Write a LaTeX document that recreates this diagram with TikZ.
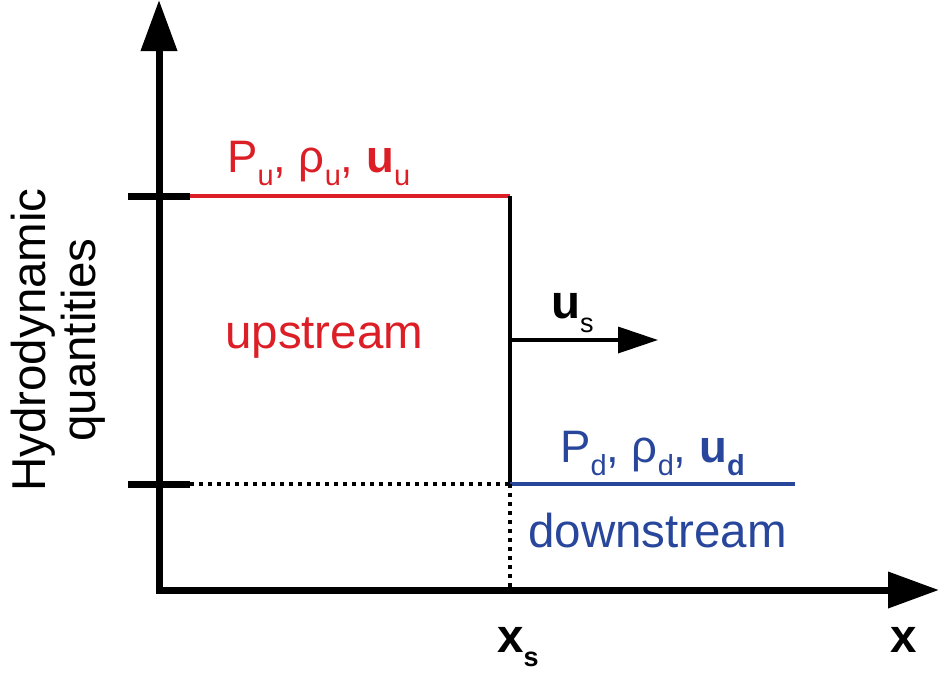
\documentclass[tikz,border=0pt]{standalone}
\usepackage{fontspec}
\setmainfont{Liberation Sans}
\usetikzlibrary{arrows.meta}
\definecolor{upred}{RGB}{220,30,38}
\definecolor{downblue}{RGB}{40,70,155}
\newcommand{\mysub}[1]{\raisebox{-0.3em}{\fontsize{29}{29}\selectfont #1}}
\newcommand{\mybsub}[1]{\raisebox{-0.3em}{\fontsize{29}{29}\selectfont\bfseries #1}}
\newcommand{\mysmallsub}[1]{\raisebox{-0.3em}{\fontsize{27}{27}\selectfont #1}}
\newcommand{\mysmallbsub}[1]{\raisebox{-0.3em}{\fontsize{27}{27}\selectfont\bfseries #1}}
\tikzset{
  axis/.style={line width=7pt,-{Triangle[length=51pt,width=35pt]}},
  tickline/.style={line width=7pt},
  level/.style={line width=3.5pt},
  dotline/.style={line width=3.5pt,dash pattern=on 3.5pt off 5.5pt},
  lbl/.style={inner sep=0pt,anchor=base west,font=\fontsize{45.5}{48}\selectfont},
  big/.style={inner sep=0pt,anchor=base west,font=\fontsize{47.5}{48}\selectfont},
}
\begin{document}
\begin{tikzpicture}[x=1pt,y=-1pt]
\useasboundingbox (0,0) rectangle (939,673);
\coordinate (O) at (159,590);
\coordinate (Ytip) at (159,0);
\coordinate (Xtip) at (939,590);
\coordinate (Xstart) at (155.5,590);
\coordinate (TUa) at (128,196);
\coordinate (TUb) at (190,196);
\coordinate (TDa) at (128,484);
\coordinate (TDb) at (190,484);
\coordinate (SU) at (510,196);
\coordinate (SD) at (510,484);
\coordinate (SB) at (510,587);
\coordinate (BE) at (795,484);
\coordinate (VA) at (510,340);
\coordinate (VB) at (658,340);
% axes
\draw[axis] (159,593.5) -- (Ytip);
\draw[axis] (Xstart) -- (Xtip);
% ticks
\draw[tickline] (TUa) -- (TUb);
\draw[tickline] (TDa) -- (TDb);
% upstream level
\draw[level,upred] (TUb) -- (SU);
% shock front
\draw[level,black] (SU) -- (SD);
% downstream level
\draw[level,downblue] (SD) -- (BE);
% dotted guides
\draw[dotline] (TDb) -- (SD);
\draw[dotline] (SD) -- (SB);
% shock velocity
\draw[level,-{Triangle[length=40pt,width=26pt]}] (VA) -- (VB);
% labels
\node[lbl,text=upred] (pu) at (227,172) {P\mysub{u}, ρ\mysub{u}, \textbf{u}\mysub{u}};
\node[big,text=upred] (up) at (225,348) {upstream};
\node[lbl,text=downblue] (pd) at (560,462) {P\mysub{d}, ρ\mysub{d}, \textbf{u}\mybsub{d}};
\node[big,text=downblue] (down) at (528,547) {downstream};
\node[big] (us) at (551,318) {\textbf{u}\mysmallsub{s}};
\node[big] (xs) at (497,652) {\textbf{x}\mysmallbsub{s}};
\node[big] (x) at (890,652) {\textbf{x}};
\node[inner sep=0pt,rotate=90,align=center,font=\fontsize{47.5}{50}\selectfont] (yl) at (58,340) {Hydrodynamic\\quantities};
\end{tikzpicture}
\end{document}
